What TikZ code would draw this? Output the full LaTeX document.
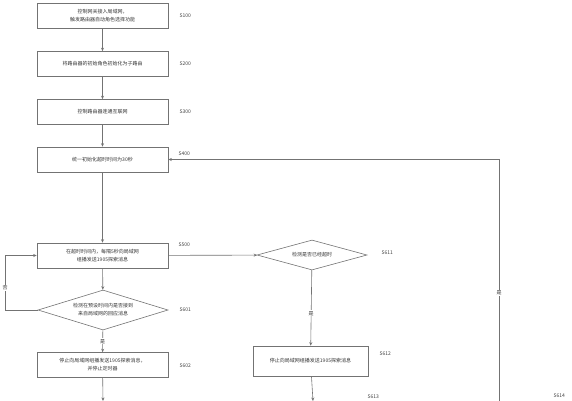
\documentclass[tikz,border=0pt]{standalone}
\usepackage{fontspec}
\newfontfamily\cjk{Noto Sans CJK SC}
\usetikzlibrary{arrows.meta,shapes.geometric}

\tikzset{
  procbox/.style={draw=black!55, line width=0.6pt, minimum width=131pt, minimum height=25pt,
    inner sep=1pt, align=center, font=\cjk\fontsize{5}{8}\selectfont, text=black!80},
  judge/.style={draw=black!55, line width=0.6pt, diamond, inner sep=0pt, align=center,
    font=\cjk\fontsize{5}{8}\selectfont, text=black!80},
  steplabel/.style={anchor=west, font=\cjk\fontsize{5}{6}\selectfont, text=black!75},
  flow/.style={draw=black!55, line width=0.6pt, -{Stealth[length=3.5pt,width=3pt]}},
  plainflow/.style={draw=black!55, line width=0.6pt},
  yesno/.style={fill=white, inner sep=1pt, font=\cjk\fontsize{5}{6}\selectfont, text=black!80}
}

\begin{document}
\begin{tikzpicture}[x=1pt, y=-1pt]
  \useasboundingbox (0,0) rectangle (572,400);
  \clip (0,0) rectangle (572,400);

  % left column
  \node[procbox] (s100) at (102.5, 15.5) {控制网关接入局域网，\\触发路由器自动角色选择功能};
  \node[procbox] (s200) at (102.5, 64) {将路由器的初始角色初始化为子路由};
  \node[procbox] (s300) at (102.5, 112) {控制路由器连通互联网};
  \node[procbox] (s400) at (102.5, 159.5) {统一初始化超时时间为30秒};
  \node[procbox] (s500) at (102.5, 255.5) {在超时时间内，每隔5秒向局域网\\组播发送1905探索消息};
  \node[judge, shape aspect=3.25, minimum width=130pt, minimum height=40pt] (s601) at (103, 310)
    {检测在预设时间内是否接到\\来自局域网的回应消息};
  \node[procbox] (s602) at (102.5, 365) {停止向局域网组播发送1905探索消息，\\并停止定时器};

  % right column
  \node[judge, shape aspect=3.67, minimum width=110pt, minimum height=30pt] (s611) at (312, 255) {检测是否已经超时};
  \node[procbox, minimum width=115pt, minimum height=30pt] (s612) at (310.5, 361)
    {停止向局域网组播发送1905探索消息};

  \coordinate (endL) at (103, 401);
  \coordinate (endM) at (313, 401);
  \coordinate (endR) at (499, 402);
  \coordinate (loopL) at (5, 310);

  % step labels
  \node[steplabel] (l100) at (176, 16) {S100};
  \node[steplabel] (l200) at (176, 64) {S200};
  \node[steplabel] (l300) at (176, 112) {S300};
  \node[steplabel] (l400) at (175, 154) {S400};
  \node[steplabel] (l500) at (175, 245) {S500};
  \node[steplabel] (l601) at (176, 310) {S601};
  \node[steplabel] (l602) at (176, 366) {S602};
  \node[steplabel] (l611) at (378, 253) {S611};
  \node[steplabel] (l612) at (376, 354) {S612};
  \node[steplabel] (l613) at (364, 397) {S613};
  \node[steplabel] (l614) at (550, 396) {S614};

  % connectors
  \draw[flow] (s100) -- (s200);
  \draw[flow] (s200) -- (s300);
  \draw[flow] (s300) -- (s400);
  \draw[flow] (s400) -- (s500);
  \draw[flow] (s500) -- (s601);
  \draw[flow] (s601) -- node[yesno] (y601) {是} (s602);
  \draw[flow] (s602) -- (endL);
  \draw[plainflow] (s601.west) -- (loopL);
  \draw[flow] (loopL) -- node[yesno, pos=0.4] (n601) {否} (loopL |- s500) -- (s500.west);
  \draw[flow] (s500) -- (s611);
  \draw[flow] (s611) -- node[yesno, pos=0.57] (y611) {是} (s612);
  \draw[flow] (s612) -- (endM);
  \draw[flow] (endR) -- node[yesno, pos=0.45] (y614) {是} (endR |- s400) -- (s400.east);
\end{tikzpicture}
\end{document}
